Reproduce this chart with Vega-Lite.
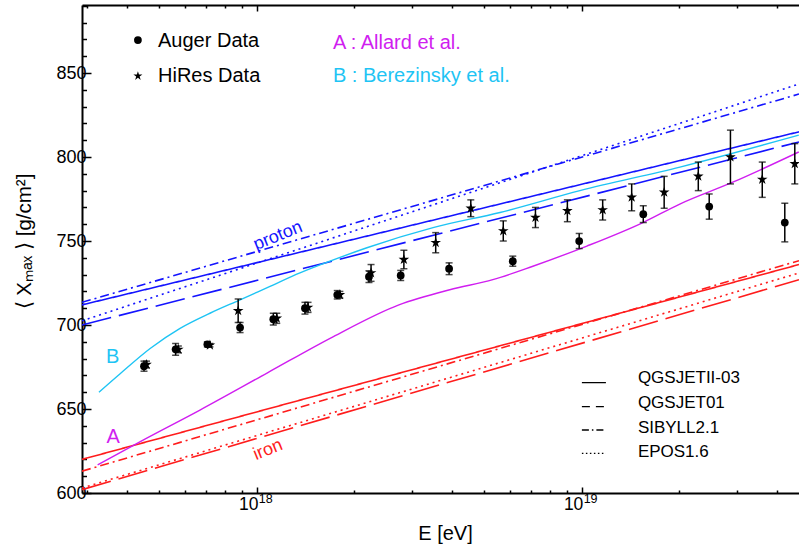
{
  "$schema": "https://vega.github.io/schema/vega-lite/v6.json",
  "width": 717,
  "height": 488,
  "autosize": {"type": "none"},
  "padding": {"left": 82, "top": 5, "right": 0, "bottom": 57},
  "background": "white",
  "config": {
    "view": {"stroke": null},
    "font": "Liberation Sans",
    "axis": {"grid": false, "labelColor": "black", "tickColor": "black", "domainColor": "black", "titleColor": "black", "labelFont": "Liberation Sans", "titleFont": "Liberation Sans", "titleFontWeight": "normal", "labelFontSize": 17, "tickWidth": 1.5, "domainWidth": 2, "labelFlush": false}
  },
  "datasets": {
    "models": [
      {"particle": "proton", "model": "QGSJETII-03", "E": 2.9e17, "X": 712},
      {"particle": "proton", "model": "QGSJETII-03", "E": 4.667e19, "X": 815},
      {"particle": "proton", "model": "QGSJET01", "E": 2.9e17, "X": 700},
      {"particle": "proton", "model": "QGSJET01", "E": 4.667e19, "X": 809},
      {"particle": "proton", "model": "SIBYLL2.1", "E": 2.9e17, "X": 713.5},
      {"particle": "proton", "model": "SIBYLL2.1", "E": 4.667e19, "X": 837.5},
      {"particle": "proton", "model": "EPOS1.6", "E": 2.9e17, "X": 702.5},
      {"particle": "proton", "model": "EPOS1.6", "E": 4.667e19, "X": 843.5},
      {"particle": "iron", "model": "QGSJETII-03", "E": 2.9e17, "X": 620},
      {"particle": "iron", "model": "QGSJETII-03", "E": 4.667e19, "X": 736},
      {"particle": "iron", "model": "QGSJET01", "E": 2.9e17, "X": 602},
      {"particle": "iron", "model": "QGSJET01", "E": 4.667e19, "X": 727},
      {"particle": "iron", "model": "SIBYLL2.1", "E": 2.9e17, "X": 613},
      {"particle": "iron", "model": "SIBYLL2.1", "E": 4.667e19, "X": 738.3},
      {"particle": "iron", "model": "EPOS1.6", "E": 2.9e17, "X": 603},
      {"particle": "iron", "model": "EPOS1.6", "E": 4.667e19, "X": 731}
    ],
    "curves": [
      {"curve": "A", "E": 3.24e17, "X": 616.7},
      {"curve": "A", "E": 4.37e17, "X": 630.5},
      {"curve": "A", "E": 6.69e17, "X": 649.4},
      {"curve": "A", "E": 1.076e18, "X": 671.4},
      {"curve": "A", "E": 1.717e18, "X": 693},
      {"curve": "A", "E": 2.74e18, "X": 712},
      {"curve": "A", "E": 3.93e18, "X": 721},
      {"curve": "A", "E": 5.33e18, "X": 727},
      {"curve": "A", "E": 7.08e18, "X": 735},
      {"curve": "A", "E": 1.038e19, "X": 747},
      {"curve": "A", "E": 1.545e19, "X": 761},
      {"curve": "A", "E": 2.005e19, "X": 772},
      {"curve": "A", "E": 2.92e19, "X": 785},
      {"curve": "A", "E": 4.66e19, "X": 803},
      {"curve": "B", "E": 3.27e17, "X": 660},
      {"curve": "B", "E": 3.8e17, "X": 671},
      {"curve": "B", "E": 4.7e17, "X": 686},
      {"curve": "B", "E": 5.81e17, "X": 698},
      {"curve": "B", "E": 7.18e17, "X": 707},
      {"curve": "B", "E": 8.89e17, "X": 715},
      {"curve": "B", "E": 1.099e18, "X": 723},
      {"curve": "B", "E": 1.359e18, "X": 731},
      {"curve": "B", "E": 1.681e18, "X": 738},
      {"curve": "B", "E": 2.184e18, "X": 746},
      {"curve": "B", "E": 3.49e18, "X": 758},
      {"curve": "B", "E": 5.61e18, "X": 767},
      {"curve": "B", "E": 9.88e18, "X": 780},
      {"curve": "B", "E": 2.007e19, "X": 794},
      {"curve": "B", "E": 4.66e19, "X": 813}
    ],
    "measurements": [
      {"experiment": "Auger", "E": 4.5e17, "X": 675.5, "lo": 672.5, "hi": 678.5},
      {"experiment": "Auger", "E": 5.63e17, "X": 685.5, "lo": 682, "hi": 689},
      {"experiment": "Auger", "E": 7.05e17, "X": 688.5, "lo": 687, "hi": 690},
      {"experiment": "Auger", "E": 8.89e17, "X": 698.5, "lo": 695.5, "hi": 701.5},
      {"experiment": "Auger", "E": 1.125e18, "X": 703.5, "lo": 700, "hi": 707},
      {"experiment": "Auger", "E": 1.408e18, "X": 710, "lo": 706.5, "hi": 713.5},
      {"experiment": "Auger", "E": 1.77e18, "X": 718, "lo": 715.5, "hi": 720.5},
      {"experiment": "Auger", "E": 2.216e18, "X": 728.8, "lo": 725.3, "hi": 732.3},
      {"experiment": "Auger", "E": 2.775e18, "X": 729.5, "lo": 726.5, "hi": 732.5},
      {"experiment": "Auger", "E": 3.91e18, "X": 733.5, "lo": 730, "hi": 737},
      {"experiment": "Auger", "E": 6.14e18, "X": 738, "lo": 735, "hi": 741},
      {"experiment": "Auger", "E": 9.83e18, "X": 750, "lo": 745.5, "hi": 754.5},
      {"experiment": "Auger", "E": 1.548e19, "X": 766, "lo": 761, "hi": 771},
      {"experiment": "Auger", "E": 2.47e19, "X": 770.5, "lo": 763, "hi": 778},
      {"experiment": "Auger", "E": 4.22e19, "X": 761, "lo": 749.5, "hi": 772.5},
      {"experiment": "HiRes", "E": 4.58e17, "X": 676.5, "lo": 674.5, "hi": 678.5},
      {"experiment": "HiRes", "E": 5.74e17, "X": 685.5, "lo": 683.5, "hi": 687.5},
      {"experiment": "HiRes", "E": 7.18e17, "X": 688, "lo": 687, "hi": 689},
      {"experiment": "HiRes", "E": 8.77e17, "X": 708.5, "lo": 701.5, "hi": 715.5},
      {"experiment": "HiRes", "E": 1.153e18, "X": 704, "lo": 701, "hi": 707},
      {"experiment": "HiRes", "E": 1.439e18, "X": 710.5, "lo": 707.5, "hi": 713.5},
      {"experiment": "HiRes", "E": 1.803e18, "X": 718, "lo": 716, "hi": 720},
      {"experiment": "HiRes", "E": 2.249e18, "X": 731, "lo": 726, "hi": 736},
      {"experiment": "HiRes", "E": 2.838e18, "X": 739, "lo": 733.5, "hi": 744.5},
      {"experiment": "HiRes", "E": 3.556e18, "X": 749, "lo": 743, "hi": 755},
      {"experiment": "HiRes", "E": 4.56e18, "X": 769.5, "lo": 764.5, "hi": 774.5},
      {"experiment": "HiRes", "E": 5.74e18, "X": 756, "lo": 750, "hi": 762},
      {"experiment": "HiRes", "E": 7.21e18, "X": 764, "lo": 758, "hi": 770},
      {"experiment": "HiRes", "E": 9.04e18, "X": 768, "lo": 761.5, "hi": 774.5},
      {"experiment": "HiRes", "E": 1.161e19, "X": 768.5, "lo": 762.5, "hi": 774.5},
      {"experiment": "HiRes", "E": 1.426e19, "X": 776, "lo": 768, "hi": 784},
      {"experiment": "HiRes", "E": 1.795e19, "X": 779, "lo": 769.5, "hi": 788.5},
      {"experiment": "HiRes", "E": 2.286e19, "X": 788.5, "lo": 780, "hi": 797},
      {"experiment": "HiRes", "E": 2.871e19, "X": 800, "lo": 784, "hi": 816},
      {"experiment": "HiRes", "E": 3.597e19, "X": 786.7, "lo": 776, "hi": 797},
      {"experiment": "HiRes", "E": 4.53e19, "X": 796, "lo": 784, "hi": 808}
    ],
    "legendMarks": [
      {"experiment": "Auger", "E": 4.31e17, "X": 869.6},
      {"experiment": "HiRes", "E": 4.31e17, "X": 848.2}
    ],
    "legendText": [
      {"text": "Auger Data", "group": "data", "E": 4.97e17, "X": 865.5},
      {"text": "HiRes Data", "group": "data", "E": 4.97e17, "X": 844.8},
      {"text": "A : Allard et al.", "group": "A", "E": 1.717e18, "X": 864.3},
      {"text": "B : Berezinsky et al.", "group": "B", "E": 1.717e18, "X": 844.6},
      {"text": "A", "group": "A", "E": 3.45e17, "X": 629.6},
      {"text": "B", "group": "B", "E": 3.44e17, "X": 677.2}
    ],
    "particleText": [
      {"text": "proton", "group": "proton", "E": 1.163e18, "X": 753},
      {"text": "iron", "group": "iron", "E": 1.083e18, "X": 625.6}
    ],
    "modelText": [
      {"text": "QGSJETII-03", "E": 1.49e19, "X": 665.5},
      {"text": "QGSJET01", "E": 1.49e19, "X": 650.6},
      {"text": "SIBYLL2.1", "E": 1.49e19, "X": 635.7},
      {"text": "EPOS1.6", "E": 1.49e19, "X": 621.4}
    ],
    "legendLines": [
      {"model": "QGSJETII-03", "E": 1.002e19, "X": 665.7},
      {"model": "QGSJETII-03", "E": 1.188e19, "X": 665.7},
      {"model": "QGSJET01", "E": 1.002e19, "X": 651.4},
      {"model": "QGSJET01", "E": 1.188e19, "X": 651.4},
      {"model": "SIBYLL2.1", "E": 1.002e19, "X": 637.5},
      {"model": "SIBYLL2.1", "E": 1.188e19, "X": 637.5},
      {"model": "EPOS1.6", "E": 1.002e19, "X": 623.6},
      {"model": "EPOS1.6", "E": 1.188e19, "X": 623.6}
    ]
  },
  "resolve": {
    "axis": {"x": "independent", "y": "independent"},
    "scale": {"color": "independent", "strokeDash": "independent"}
  },
  "layer": [
    {
      "data": {"name": "models"},
      "mark": {"type": "point", "opacity": 0},
      "encoding": {
        "x": {"field": "E", "type": "quantitative", "scale": {"type": "log", "domain": [2.9e17, 4.667e19], "nice": false},
          "axis": {"orient": "bottom", "values": [1e18, 1e19], "tickSize": -6, "labelExpr": "'10'", "labelFontSize": 17.5, "labelOffset": -8.5, "labelPadding": 8, "domain": true, "title": "E [eV]", "titleFontSize": 20, "titleX": 363, "titleY": 40, "titleBaseline": "middle"}},
        "y": {"field": "X", "type": "quantitative", "scale": {"domain": [600, 890.5], "nice": false, "zero": false},
          "axis": {"orient": "left", "values": [600, 650, 700, 750, 800, 850], "tickSize": -9, "labelFontSize": 18, "labelPadding": 5, "domain": true, "title": "⟨ Xₘₐₓ ⟩ [g/cm²]", "titleFontSize": 20.5, "titleX": -58, "titleY": 236, "titleAngle": -90, "titleBaseline": "middle", "titleAlign": "center"}}
      }
    },
    {
      "data": {"name": "models"},
      "mark": {"type": "point", "opacity": 0},
      "encoding": {
        "x": {"field": "E", "type": "quantitative", "scale": {"type": "log", "domain": [2.9e17, 4.667e19], "nice": false},
          "axis": {"orient": "bottom", "values": [3e17, 4e17, 5e17, 6e17, 7e17, 8e17, 9e17, 2e18, 3e18, 4e18, 5e18, 6e18, 7e18, 8e18, 9e18, 2e19, 3e19, 4e19], "tickSize": -3, "labels": false, "domain": false, "title": null}},
        "y": {"field": "X", "type": "quantitative", "scale": {"domain": [600, 890.5], "nice": false, "zero": false},
          "axis": {"orient": "left", "values": [610, 620, 630, 640, 660, 670, 680, 690, 710, 720, 730, 740, 760, 770, 780, 790, 810, 820, 830, 840, 860, 870, 880, 890], "tickSize": -4.5, "labels": false, "domain": false, "title": null}}
      }
    },
    {
      "data": {"name": "models"},
      "mark": {"type": "point", "opacity": 0},
      "encoding": {
        "x": {"field": "E", "type": "quantitative", "scale": {"type": "log", "domain": [2.9e17, 4.667e19], "nice": false},
          "axis": {"orient": "top", "values": [1e18, 1e19], "tickSize": -6, "labels": false, "domain": true, "title": null}},
        "y": {"field": "X", "type": "quantitative", "axis": null}
      }
    },
    {
      "data": {"name": "models"},
      "mark": {"type": "point", "opacity": 0},
      "encoding": {
        "x": {"field": "E", "type": "quantitative", "scale": {"type": "log", "domain": [2.9e17, 4.667e19], "nice": false},
          "axis": {"orient": "top", "values": [3e17, 4e17, 5e17, 6e17, 7e17, 8e17, 9e17, 2e18, 3e18, 4e18, 5e18, 6e18, 7e18, 8e18, 9e18, 2e19, 3e19, 4e19], "tickSize": -3, "labels": false, "domain": false, "title": null}},
        "y": {"field": "X", "type": "quantitative", "axis": null}
      }
    },
    {
      "data": {"name": "models"},
      "mark": {"type": "point", "opacity": 0},
      "encoding": {
        "x": {"field": "E", "type": "quantitative", "scale": {"type": "log", "domain": [2.9e17, 4.667e19], "nice": false},
          "axis": {"orient": "bottom", "values": [1e18, 1e19], "ticks": false, "domain": false, "labelExpr": "datum.value < 5e18 ? '18' : '19'", "labelFontSize": 12.5, "labelOffset": 8.5, "labelPadding": -1, "title": null}},
        "y": {"field": "X", "type": "quantitative", "axis": null}
      }
    },
    {
      "data": {"name": "models"},
      "mark": {"type": "line", "strokeWidth": 1.6, "clip": true},
      "encoding": {
        "x": {"field": "E", "type": "quantitative", "axis": null},
        "y": {"field": "X", "type": "quantitative", "axis": null},
        "color": {"field": "particle", "type": "nominal", "scale": {"domain": ["proton", "iron"], "range": ["#1414ff", "#ff1c1c"]}, "legend": null},
        "strokeDash": {"field": "model", "type": "nominal", "scale": {"domain": ["QGSJETII-03", "QGSJET01", "SIBYLL2.1", "EPOS1.6"], "range": [[1, 0], [30, 8], [9, 4, 2, 4], [2, 4]]}, "legend": null}
      }
    },
    {
      "data": {"name": "curves"},
      "mark": {"type": "line", "strokeWidth": 1.4, "clip": true, "interpolate": "monotone"},
      "encoding": {
        "x": {"field": "E", "type": "quantitative", "axis": null},
        "y": {"field": "X", "type": "quantitative", "axis": null},
        "color": {"field": "curve", "type": "nominal", "scale": {"domain": ["A", "B"], "range": ["#d01ef0", "#1ec4f4"]}, "legend": null}
      }
    },
    {
      "data": {"name": "measurements"},
      "mark": {"type": "rule", "color": "black", "strokeWidth": 1.5},
      "encoding": {
        "x": {"field": "E", "type": "quantitative", "axis": null},
        "y": {"field": "lo", "type": "quantitative", "axis": null},
        "y2": {"field": "hi"}
      }
    },
    {
      "data": {"name": "measurements"},
      "mark": {"type": "tick", "orient": "horizontal", "color": "black", "size": 7, "thickness": 1.5},
      "encoding": {
        "x": {"field": "E", "type": "quantitative", "axis": null},
        "y": {"field": "lo", "type": "quantitative", "axis": null}
      }
    },
    {
      "data": {"name": "measurements"},
      "mark": {"type": "tick", "orient": "horizontal", "color": "black", "size": 7, "thickness": 1.5},
      "encoding": {
        "x": {"field": "E", "type": "quantitative", "axis": null},
        "y": {"field": "hi", "type": "quantitative", "axis": null}
      }
    },
    {
      "data": {"name": "measurements"},
      "transform": [{"filter": "datum.experiment == 'Auger'"}],
      "mark": {"type": "point", "shape": "circle", "filled": true, "color": "black", "opacity": 1, "size": 60},
      "encoding": {
        "x": {"field": "E", "type": "quantitative", "axis": null},
        "y": {"field": "X", "type": "quantitative", "axis": null}
      }
    },
    {
      "data": {"name": "measurements"},
      "transform": [{"filter": "datum.experiment == 'HiRes'"}],
      "mark": {"type": "point", "shape": "M0,-1L0.2245,-0.309L0.9511,-0.309L0.3633,0.118L0.5878,0.809L0,0.382L-0.5878,0.809L-0.3633,0.118L-0.9511,-0.309L-0.2245,-0.309Z", "filled": true, "color": "black", "opacity": 1, "size": 125},
      "encoding": {
        "x": {"field": "E", "type": "quantitative", "axis": null},
        "y": {"field": "X", "type": "quantitative", "axis": null}
      }
    },
    {
      "data": {"name": "legendMarks"},
      "transform": [{"filter": "datum.experiment == 'Auger'"}],
      "mark": {"type": "point", "shape": "circle", "filled": true, "color": "black", "opacity": 1, "size": 60},
      "encoding": {
        "x": {"field": "E", "type": "quantitative", "axis": null},
        "y": {"field": "X", "type": "quantitative", "axis": null}
      }
    },
    {
      "data": {"name": "legendMarks"},
      "transform": [{"filter": "datum.experiment == 'HiRes'"}],
      "mark": {"type": "point", "shape": "M0,-1L0.2245,-0.309L0.9511,-0.309L0.3633,0.118L0.5878,0.809L0,0.382L-0.5878,0.809L-0.3633,0.118L-0.9511,-0.309L-0.2245,-0.309Z", "filled": true, "color": "black", "opacity": 1, "size": 90},
      "encoding": {
        "x": {"field": "E", "type": "quantitative", "axis": null},
        "y": {"field": "X", "type": "quantitative", "axis": null}
      }
    },
    {
      "data": {"name": "legendLines"},
      "mark": {"type": "line", "color": "black", "strokeWidth": 1.3},
      "encoding": {
        "x": {"field": "E", "type": "quantitative", "axis": null},
        "y": {"field": "X", "type": "quantitative", "axis": null},
        "strokeDash": {"field": "model", "type": "nominal", "scale": {"domain": ["QGSJETII-03", "QGSJET01", "SIBYLL2.1", "EPOS1.6"], "range": [[1, 0], [8, 6], [7, 3, 1.5, 3], [1.5, 2.5]]}, "legend": null}
      }
    },
    {
      "data": {"name": "legendText"},
      "mark": {"type": "text", "align": "left", "baseline": "alphabetic", "fontSize": 20, "font": "Liberation Sans"},
      "encoding": {
        "x": {"field": "E", "type": "quantitative", "axis": null},
        "y": {"field": "X", "type": "quantitative", "axis": null},
        "text": {"field": "text"},
        "color": {"field": "group", "type": "nominal", "scale": {"domain": ["data", "A", "B"], "range": ["black", "#d01ef0", "#1ec4f4"]}, "legend": null}
      }
    },
    {
      "data": {"name": "particleText"},
      "mark": {"type": "text", "align": "center", "baseline": "middle", "fontSize": 18, "angle": 338, "font": "Liberation Sans"},
      "encoding": {
        "x": {"field": "E", "type": "quantitative", "axis": null},
        "y": {"field": "X", "type": "quantitative", "axis": null},
        "text": {"field": "text"},
        "color": {"field": "group", "type": "nominal", "scale": {"domain": ["proton", "iron"], "range": ["#1414ff", "#ff1c1c"]}, "legend": null}
      }
    },
    {
      "data": {"name": "modelText"},
      "mark": {"type": "text", "align": "left", "baseline": "alphabetic", "fontSize": 17, "color": "black", "font": "Liberation Sans"},
      "encoding": {
        "x": {"field": "E", "type": "quantitative", "axis": null},
        "y": {"field": "X", "type": "quantitative", "axis": null},
        "text": {"field": "text"}
      }
    }
  ]
}
